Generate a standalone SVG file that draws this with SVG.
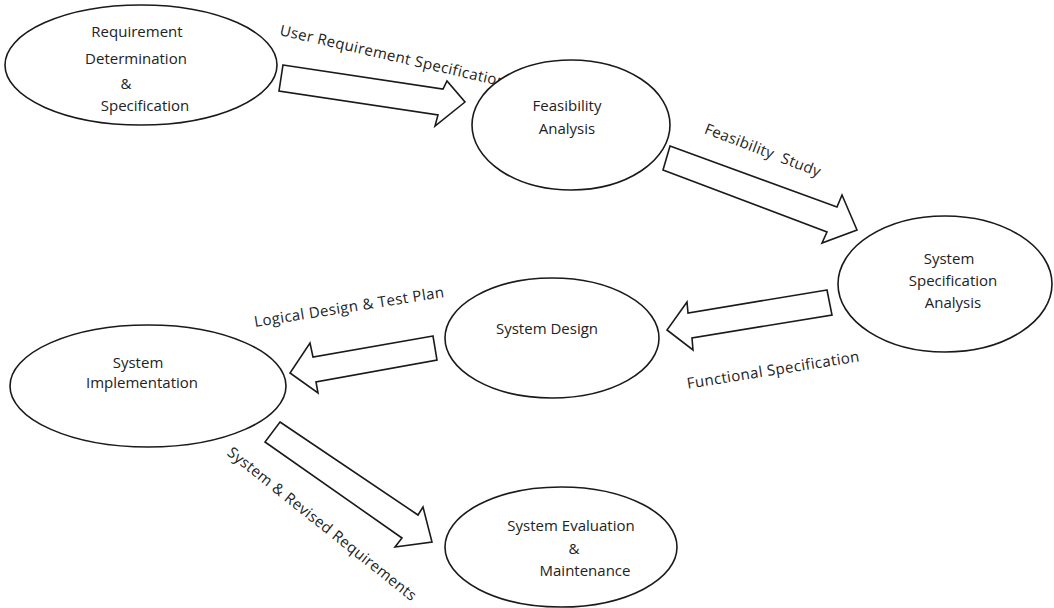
<svg xmlns="http://www.w3.org/2000/svg" width="1054" height="608" viewBox="0 0 1054 608">
  <style>
    .node ellipse { fill: #ffffff; stroke: #1a1a1a; stroke-width: 1.6; }
    .node text { font-family: "Open Sans", "Noto Sans", "Liberation Sans", sans-serif; font-size: 15px; fill: #222; text-anchor: middle; }
    .arrow { fill: #ffffff; stroke: #1a1a1a; stroke-width: 1.6; stroke-linejoin: miter; }
    .label { font-family: "Open Sans", "Noto Sans", "Liberation Sans", sans-serif; font-size: 15px; letter-spacing: 0.4px; fill: #222; text-anchor: middle; }
  </style>
  <rect width="1054" height="608" fill="#ffffff"/>

  <!-- block arrows between stages, with their captions -->
  <g id="connectors">
    <polygon class="arrow" points="283,65 443,89 447,81 465,102 435,126 438,115 279,91"/>
    <text class="label" transform="translate(392,61) rotate(13)">User Requirement Specification</text>

    <polygon class="arrow" points="670,146 837,207 842,195 857,230 822,243 827,232 663,170"/>
    <text class="label" transform="translate(761,155) rotate(21)" xml:space="preserve">Feasibility  Study</text>

    <polygon class="arrow" points="827,290 688,313 687,302 667,330 693,350 692,338 832,315"/>
    <text class="label" transform="translate(774,375) rotate(-9)">Functional Specification</text>

    <polygon class="arrow" points="433,336 313,357 310,343 290,373 318,393 316,382 437,360"/>
    <text class="label" transform="translate(350,312) rotate(-9)">Logical Design &amp; Test Plan</text>

    <polygon class="arrow" points="280,422 418,515 423,507 432,542 395,547 402,538 265,442"/>
    <text class="label" transform="translate(319,528) rotate(38.5)">System &amp; Revised Requirements</text>
  </g>

  <g id="requirement" class="node">
    <ellipse cx="141" cy="65" rx="136" ry="60"/>
    <text x="137" y="37">Requirement</text>
    <text x="136" y="64">Determination</text>
    <text x="126" y="89">&amp;</text>
    <text x="145" y="111">Specification</text>
  </g>

  <g id="feasibility" class="node">
    <ellipse cx="571" cy="125" rx="99" ry="65"/>
    <text x="567" y="111">Feasibility</text>
    <text x="567" y="134">Analysis</text>
  </g>

  <g id="spec-analysis" class="node">
    <ellipse cx="945" cy="284" rx="107" ry="68"/>
    <text x="949" y="264">System</text>
    <text x="953" y="286">Specification</text>
    <text x="953" y="308">Analysis</text>
  </g>

  <g id="design" class="node">
    <ellipse cx="552" cy="338" rx="107" ry="60"/>
    <text x="547" y="334">System Design</text>
  </g>

  <g id="implementation" class="node">
    <ellipse cx="148" cy="386" rx="138" ry="61"/>
    <text x="138" y="368">System</text>
    <text x="142" y="388">Implementation</text>
  </g>

  <g id="evaluation" class="node">
    <ellipse cx="561" cy="547" rx="116" ry="60"/>
    <text x="571" y="531">System Evaluation</text>
    <text x="574" y="554">&amp;</text>
    <text x="585" y="576">Maintenance</text>
  </g>
</svg>
